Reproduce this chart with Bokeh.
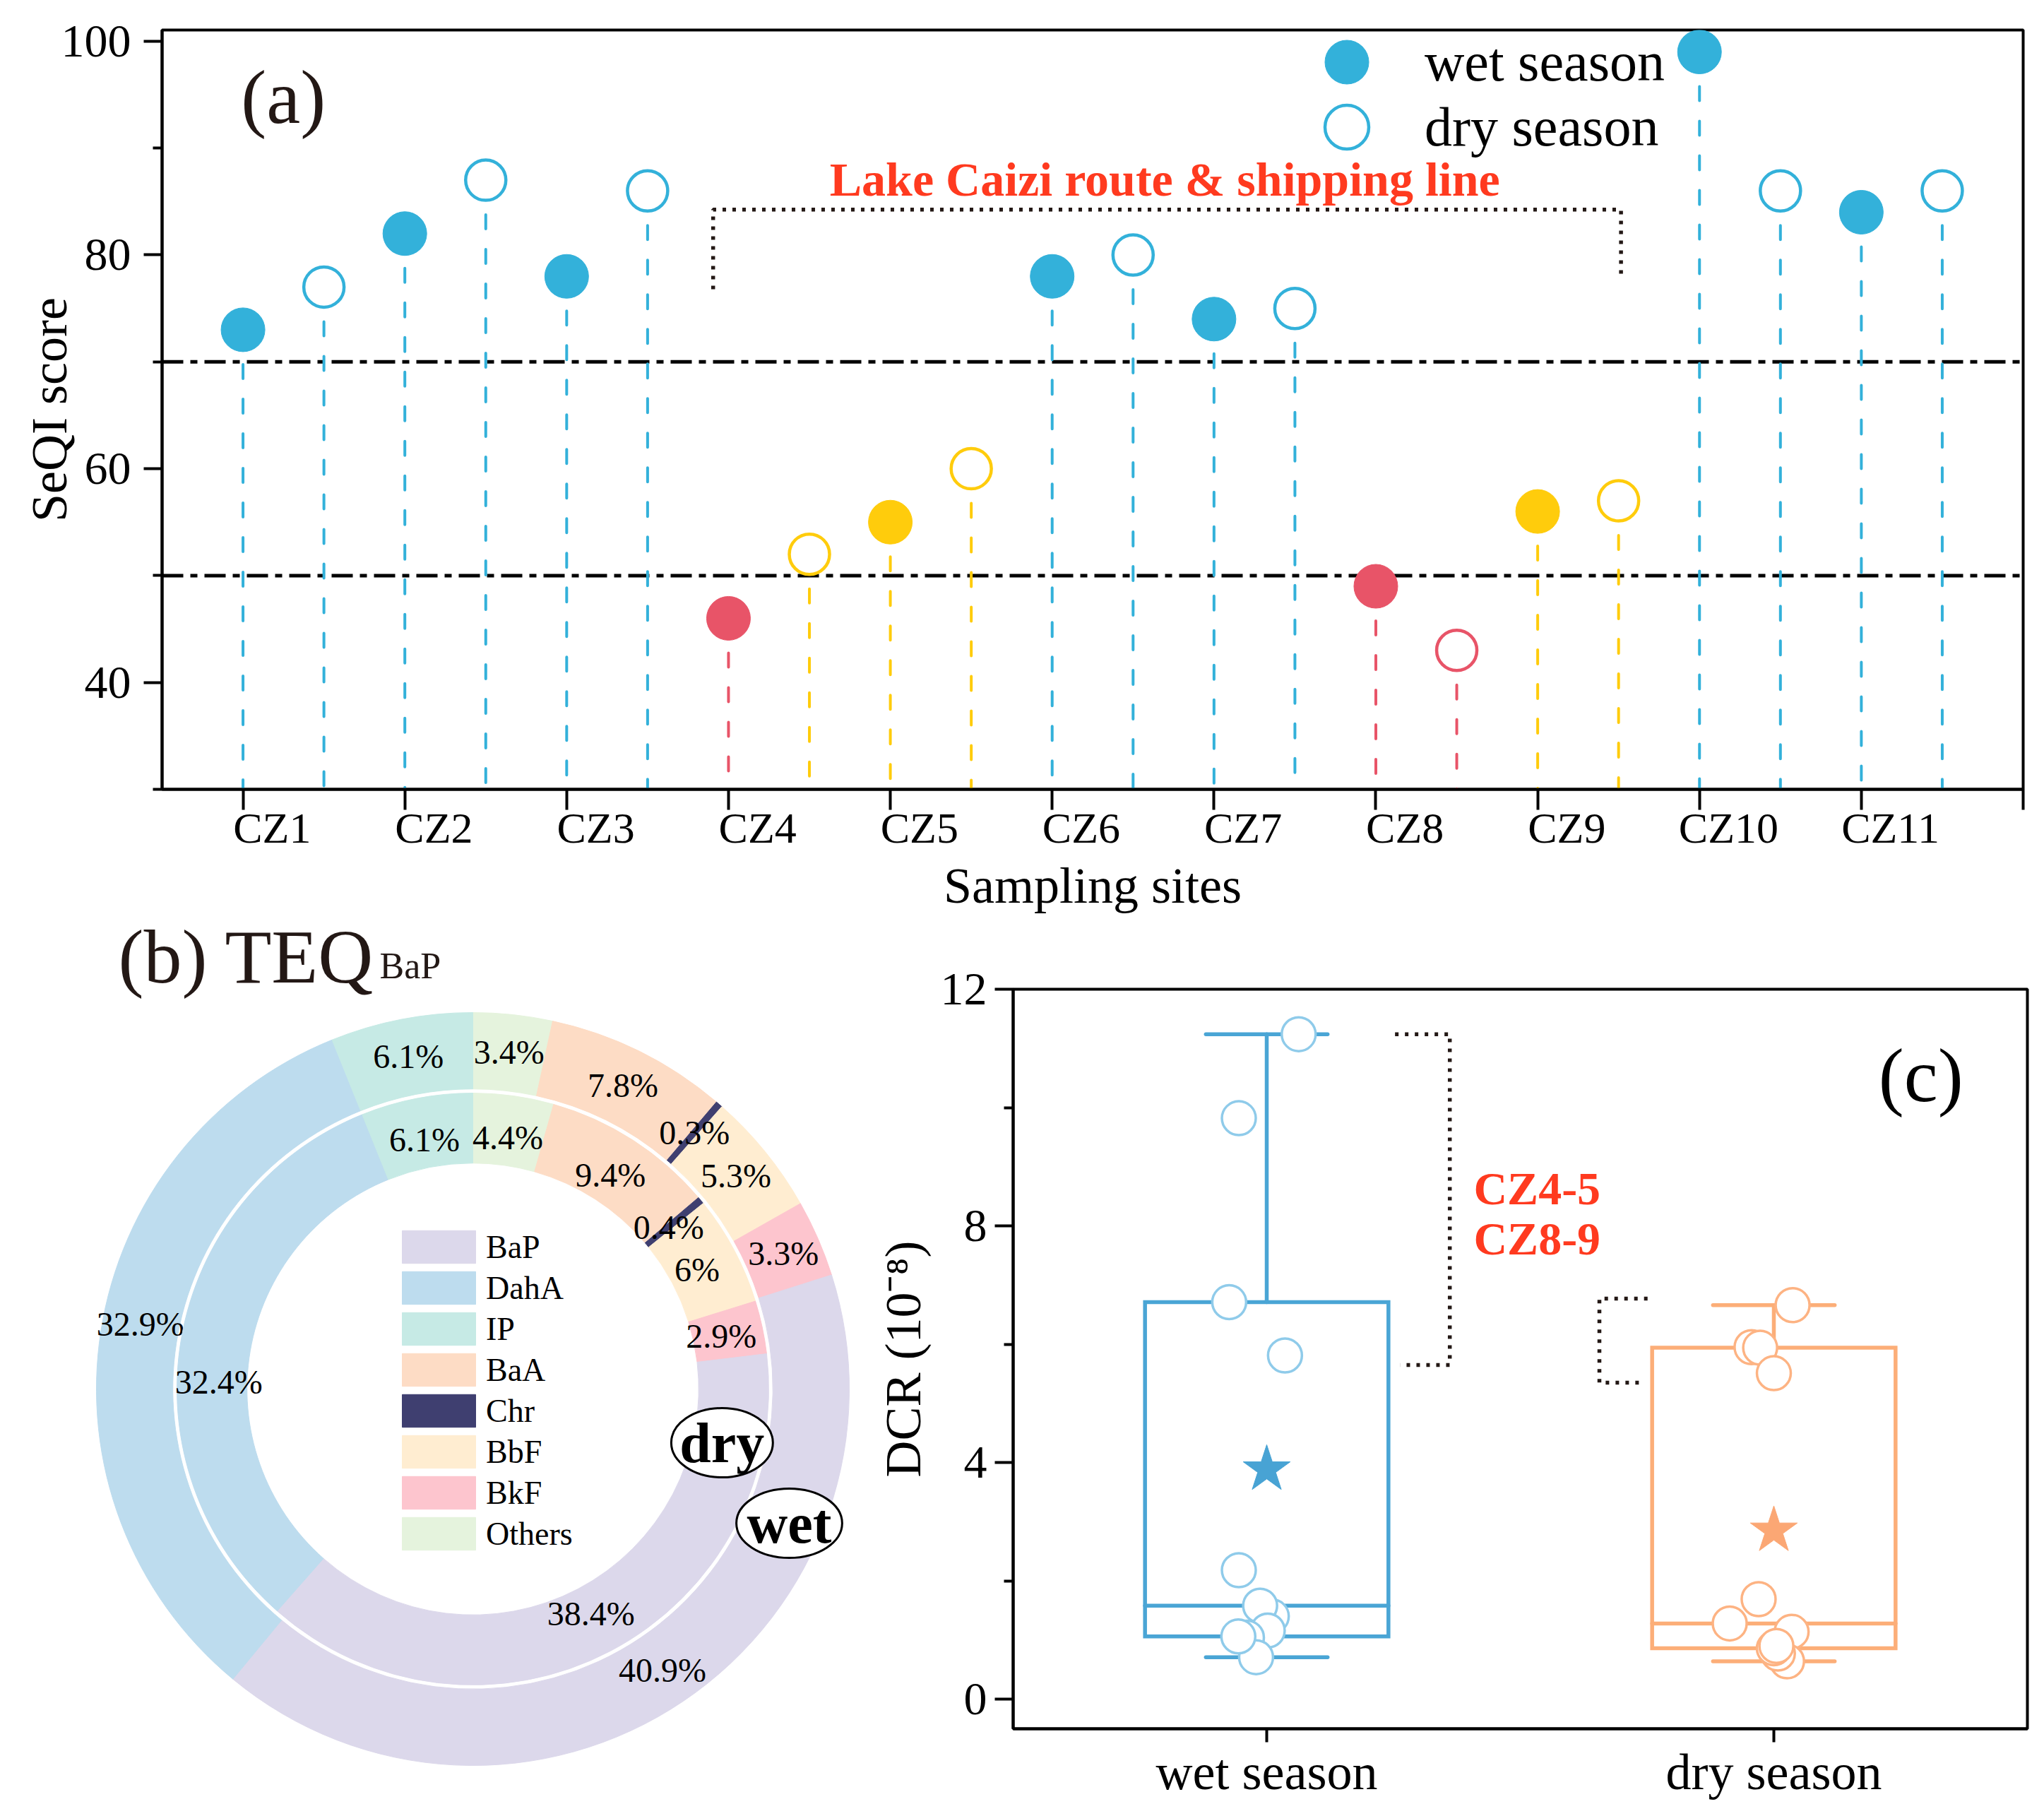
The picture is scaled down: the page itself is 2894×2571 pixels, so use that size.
import math
import numpy as np
from bokeh.plotting import figure
from bokeh.models import (Range1d, FixedTicker, Label, Legend, LegendItem, Span,
                          ColumnDataSource)
from bokeh.layouts import column, row
from bokeh.embed import file_html
from bokeh.resources import INLINE
from bokeh.core.properties import value

FONT = "Liberation Serif"
INK = "#231815"
RED_TXT = "#FF3A1F"

# ---------------- data: panel (a) ----------------
sites = ["CZ1", "CZ2", "CZ3", "CZ4", "CZ5", "CZ6", "CZ7", "CZ8", "CZ9", "CZ10", "CZ11"]
seqi_wet = [73, 82, 78, 46, 55, 78, 74, 49, 56, 99, 84]
seqi_dry = [77, 87, 86, 52, 60, 80, 75, 43, 57, 86, 86]
seqi_levels = [50, 70]
level_colors = ["#E85468", "#FFCC0C", "#33B1DA"]  # <50, 50-70, >=70

# ---------------- data: panel (b) ----------------
teq_components = ["BaP", "DahA", "IP", "BaA", "Chr", "BbF", "BkF", "Others"]
teq_wet = [40.9, 32.9, 6.1, 7.8, 0.3, 5.3, 3.3, 3.4]
teq_dry = [38.4, 32.4, 6.1, 9.4, 0.4, 6.0, 2.9, 4.4]
teq_colors = ["#DCD8EB", "#BDDCEE", "#C6EAE5", "#FDDCC5", "#3F3F70", "#FFEDD1", "#FDC5CE", "#E5F3DD"]
ring_order = ["Others", "BaA", "Chr", "BbF", "BkF", "BaP", "DahA", "IP"]

# ---------------- data: panel (c) ----------------
seasons = ["wet season", "dry season"]
dcr_wet = [11.24, 9.82, 6.71, 5.81, 2.18, 1.40, 1.58, 1.16, 1.04, 0.71, 1.06]
dcr_wet_jitter = [0.063, -0.055, -0.074, 0.036, -0.055, 0.010, -0.013, 0.002, -0.039, -0.021, -0.056]
dcr_dry = [6.66, 5.95, 5.94, 5.51, 1.69, 1.28, 1.14, 0.64, 0.77, 0.86, 0.90]
dcr_dry_jitter = [0.037, -0.044, -0.027, 0.0, -0.030, -0.087, 0.035, 0.026, 0.008, 0.0, 0.005]


def level_color(v):
    if v < seqi_levels[0]:
        return level_colors[0]
    if v < seqi_levels[1]:
        return level_colors[1]
    return level_colors[2]


def style_axis(ax, tick_font, label_font):
    ax.axis_line_color = "black"
    ax.axis_line_width = 4
    ax.major_tick_line_color = "black"
    ax.major_tick_line_width = 4
    ax.minor_tick_line_color = "black"
    ax.minor_tick_line_width = 4
    ax.major_tick_in = 0
    ax.minor_tick_in = 0
    ax.major_label_text_font = FONT
    ax.major_label_text_font_size = tick_font
    ax.major_label_text_color = "black"
    ax.axis_label_text_font = FONT
    ax.axis_label_text_font_size = label_font
    ax.axis_label_text_font_style = "normal"
    ax.axis_label_text_color = "black"


def text_label(x, y, text, size, color, bold=False, align="left", lift=None):
    # lift compensates the renderer's baseline placement (about 0.37 em)
    if lift is None:
        lift = round(0.37 * size)
    return Label(x=x, y=y, y_offset=lift, text=text, text_align=align, text_baseline="alphabetic",
                 text_font=FONT, text_font_style="bold" if bold else "normal",
                 text_font_size=f"{size}px", text_color=color)


TOTAL_W = 2890
ROW_TOP = 1296
TOTAL_H = 2568

# ======================= panel (a) =======================
Y0 = 30
n = len(sites)
x_wet = [i + 1 for i in range(n)]
x_dry = [i + 1.5 for i in range(n)]

p_a = figure(width=TOTAL_W, height=ROW_TOP, x_range=Range1d(0.5, 12), y_range=Range1d(Y0, 101.05),
             output_backend="svg", toolbar_location=None,
             min_border_left=229, min_border_right=TOTAL_W - 2864, min_border_top=42,
             min_border_bottom=ROW_TOP - 1121)
p_a.grid.visible = False
p_a.outline_line_color = "black"
p_a.outline_line_width = 4
p_a.background_fill_color = "white"
p_a.border_fill_color = "white"

for t in seqi_levels:
    p_a.add_layout(Span(location=t, dimension="width", line_color="black", line_width=5,
                        line_dash="30 10 10 10", level="underlay"))

src_w = ColumnDataSource(dict(x=x_wet, y=seqi_wet, y0=[Y0] * n, c=[level_color(v) for v in seqi_wet]))
src_d = ColumnDataSource(dict(x=x_dry, y=seqi_dry, y0=[Y0] * n, c=[level_color(v) for v in seqi_dry]))
for s in (src_w, src_d):
    p_a.segment(x0="x", y0="y", x1="x", y1="y0", source=s, line_color="c", line_width=4,
                line_dash="20 29", line_cap="round")
r_wet = p_a.scatter("x", "y", source=src_w, size=62, fill_color="c", line_color="c", line_width=1)
r_dry = p_a.scatter("x", "y", source=src_d, size=57, fill_color="white", line_color="c", line_width=4.5)

for lab, rend, vy in (("wet season", r_wet, 952), ("dry season", r_dry, 860)):
    leg = Legend(items=[LegendItem(label=lab, renderers=[rend], index=0)], location=(1600, vy),
                 glyph_width=155, glyph_height=155, label_standoff=33, padding=0, margin=0,
                 border_line_color=None, background_fill_alpha=0,
                 label_text_font=FONT, label_text_font_size="78px", label_text_color="black")
    p_a.add_layout(leg)

# bracket + annotation
p_a.line(x=[3.905, 3.905, 9.515, 9.515], y=[76.8, 84.25, 84.25, 77.7], line_color=INK,
         line_width=5.5, line_dash="5 9")
p_a.add_layout(text_label(6.696, 85.44, "Lake Caizi route & shipping line", 68, RED_TXT,
                          bold=True, align="center"))
p_a.add_layout(text_label(0.988, 92.16, "(a)", 108, INK))

xa = p_a.xaxis[0]
style_axis(xa, "62px", "72px")
lab_pos = [x + 0.18 for x in x_wet]
xa.ticker = FixedTicker(ticks=lab_pos, minor_ticks=list(range(1, 13)))
xa.major_label_overrides = dict(zip(lab_pos, sites))
xa.major_tick_out = 0
xa.minor_tick_out = 29
xa.major_label_standoff = -9
xa.axis_label = "Sampling sites"
xa.axis_label_standoff = 5

ya = p_a.yaxis[0]
style_axis(ya, "66px", "72px")
ya.ticker = FixedTicker(ticks=[40, 60, 80, 100], minor_ticks=[30, 50, 70, 90])
ya.major_tick_out = 26
ya.minor_tick_out = 13
ya.major_label_standoff = 18
ya.axis_label = "SeQI score"
ya.axis_label_standoff = -26

# ======================= panel (b) =======================
W_B = 1230
H_ROW = TOTAL_H - ROW_TOP
CX, CY, R = 669, 1966, 533  # donut centre / radius in page pixels
p_b = figure(width=W_B, height=H_ROW,
             x_range=Range1d(-CX / R, (W_B - CX) / R),
             y_range=Range1d(-(TOTAL_H - CY) / R, (CY - ROW_TOP) / R),
             output_backend="svg", toolbar_location=None, min_border=0,
             x_axis_location=None, y_axis_location=None)
p_b.grid.visible = False
p_b.outline_line_color = None
p_b.background_fill_color = "white"
p_b.border_fill_color = "white"

# small angular nudges (degrees) for percentage labels that would otherwise collide
label_nudge = {("wet", "DahA"): 2.2, ("dry", "DahA"): -8.2}


def ring(name, values, r_in, r_out, r_lab):
    vals = [values[teq_components.index(c)] for c in ring_order]
    cols = [teq_colors[teq_components.index(c)] for c in ring_order]
    cum = np.concatenate([[0.0], np.cumsum(vals)])
    total = cum[-1]
    start = [math.pi / 2 - 2 * math.pi * cum[i + 1] / total for i in range(len(vals))]
    end = [math.pi / 2 - 2 * math.pi * cum[i] / total for i in range(len(vals))]
    src = ColumnDataSource(dict(start=start, end=end, c=cols))
    r = p_b.annular_wedge(x=0, y=0, inner_radius=r_in, outer_radius=r_out, start_angle="start",
                          end_angle="end", fill_color="c", line_color="c", line_width=1, source=src)
    mids = [(cum[i] + cum[i + 1]) / 2 / total * 2 * math.pi
            + math.radians(label_nudge.get((name, ring_order[i]), 0.0)) for i in range(len(vals))]
    lsrc = ColumnDataSource(dict(x=[r_lab * math.sin(m) for m in mids],
                                 y=[r_lab * math.cos(m) for m in mids],
                                 t=[f"{v:g}%" for v in vals]))
    p_b.text(x="x", y="y", text="t", source=lsrc, text_align="center", text_baseline="middle",
             text_font=value(FONT), text_font_size="48px", text_color="black")
    return r


r_outer = ring("wet", teq_wet, 0.797, 1.0, 0.90)
r_inner = ring("dry", teq_dry, 0.60, 0.786, 0.675)

leg_b = Legend(items=[LegendItem(label=c, renderers=[r_outer], index=ring_order.index(c))
                      for c in teq_components],
               location=(556, TOTAL_H - 2200), glyph_width=130, glyph_height=58, spacing=0,
               label_standoff=2, padding=0, margin=0, border_line_color=None, background_fill_alpha=0,
               label_text_font=FONT, label_text_font_size="46px", label_text_color="black")
p_b.add_layout(leg_b)

p_b.ellipse(x=[0.662, 0.8405], y=[-0.1426, -0.3565], width=[0.27, 0.281], height=[0.184, 0.184],
            fill_color="white", line_color="black", line_width=3)
p_b.text(x=[0.662, 0.8405], y=[-0.1426, -0.3565], text=["dry", "wet"], text_align="center",
         text_baseline="middle", text_font=value(FONT), text_font_style="bold",
         text_font_size="80px", text_color="black")

p_b.add_layout(text_label(-0.942, (CY - 1394) / R, "(b) TEQ", 108, INK))
p_b.add_layout(text_label(-0.2477, (CY - 1386) / R, "BaP", 52, INK))

# ======================= panel (c) =======================
p_c = figure(width=TOTAL_W - W_B, height=H_ROW, x_range=Range1d(0.5, 2.5), y_range=Range1d(-0.5, 12),
             output_backend="svg", toolbar_location=None,
             min_border_left=1434 - W_B, min_border_right=TOTAL_W - 2870,
             min_border_top=1400 - ROW_TOP, min_border_bottom=TOTAL_H - 2447)
p_c.grid.visible = False
p_c.outline_line_color = "black"
p_c.outline_line_width = 4
p_c.background_fill_color = "white"
p_c.border_fill_color = "white"

box_half = 0.24
cap_half = 0.12
series = [
    (dcr_wet, dcr_wet_jitter, "#4AA5D5", "#8FCBEA", "#48A3D4"),
    (dcr_dry, dcr_dry_jitter, "#FCAE78", "#FDB383", "#FBA774"),
]
for k, (vals, jit, box_c, pt_c, star_c) in enumerate(series):
    xc = k + 1
    q1, med, q3 = np.percentile(vals, [25, 50, 75], method="weibull")
    lo, hi = min(vals), max(vals)
    mean = float(np.mean(vals))
    p_c.quad(left=xc - box_half, right=xc + box_half, bottom=q1, top=q3, fill_color=None,
             line_color=box_c, line_width=5.5, line_join="miter")
    p_c.segment(x0=[xc - box_half, xc, xc, xc - cap_half, xc - cap_half],
                y0=[med, q3, q1, hi, lo],
                x1=[xc + box_half, xc, xc, xc + cap_half, xc + cap_half],
                y1=[med, hi, lo, hi, lo], line_color=box_c, line_width=5.5, line_cap="round")
    p_c.scatter(x=[xc + j for j in jit], y=vals, size=48, fill_color="white", line_color=pt_c,
                line_width=3.5)
    p_c.scatter(x=[xc], y=[mean], marker="star", size=70, fill_color=star_c, line_color=star_c)

p_c.line(x=[1.253, 1.361, 1.361, 1.263], y=[11.24, 11.24, 5.65, 5.65], line_color=INK,
         line_width=5.5, line_dash="5 9")
p_c.line(x=[1.751, 1.656, 1.656, 1.745], y=[6.77, 6.77, 5.35, 5.35], line_color=INK,
         line_width=5.5, line_dash="5 9")
for txt, yy in (("CZ4-5", 8.35), ("CZ8-9", 7.5)):
    p_c.add_layout(text_label(1.408, yy, txt, 66, RED_TXT, bold=True))
p_c.add_layout(text_label(2.29, 10.0, "(c)", 108, "black", align="center", lift=46))

xc_ax = p_c.xaxis[0]
style_axis(xc_ax, "72px", "72px")
xc_ax.ticker = FixedTicker(ticks=[1, 2], minor_ticks=[])
xc_ax.major_label_overrides = {1: seasons[0], 2: seasons[1]}
xc_ax.major_tick_out = 19
xc_ax.major_label_standoff = 2

yc_ax = p_c.yaxis[0]
style_axis(yc_ax, "66px", "72px")
yc_ax.ticker = FixedTicker(ticks=[0, 4, 8, 12], minor_ticks=[2, 6, 10])
yc_ax.major_tick_out = 26
yc_ax.minor_tick_out = 13
yc_ax.major_label_standoff = 11
yc_ax.axis_label = "DCR (10\u207b\u2078)"
yc_ax.axis_label_standoff = 10

layout = column(p_a, row(p_b, column(p_c)))
open("out.html", "w").write(file_html(layout, INLINE))
